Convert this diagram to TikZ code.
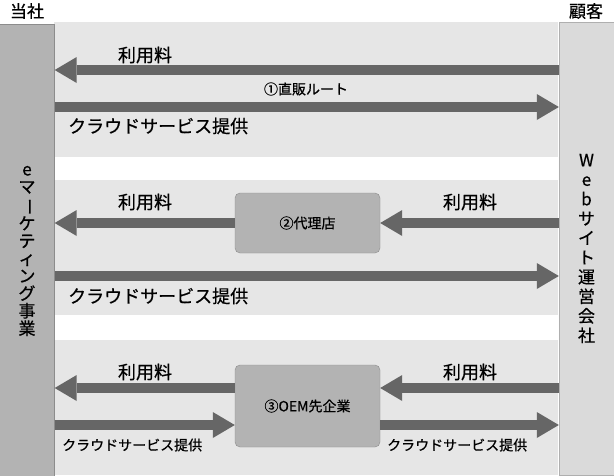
\documentclass[tikz,border=0pt]{standalone}
\usepackage{fontspec}
\setmainfont{Noto Sans CJK JP}[FakeBold=0.6]
\usetikzlibrary{arrows.meta}
\definecolor{bandgray}{HTML}{E6E6E6}
\definecolor{flowgray}{HTML}{666666}
\definecolor{leftgray}{HTML}{B3B3B3}
\definecolor{rightgray}{HTML}{DADADA}
\definecolor{edgegray}{HTML}{8C8C8C}
\begin{document}
\begin{tikzpicture}[x=1pt,y=-1pt,
		flow/.style={draw=flowgray, line width=10pt, -{Triangle[width=26pt,length=22pt,line width=0pt]}},
		lbl/.style={inner sep=0pt, font=\fontsize{18}{18}\selectfont},
		smalllbl/.style={inner sep=0pt, font=\fontsize{14}{14}\selectfont},
		party/.style={draw=edgegray, minimum width=55pt, minimum height=453pt, inner sep=0pt, align=center},
		agent/.style={draw=edgegray, fill=leftgray, rounded corners=5pt, minimum width=145pt, inner sep=0pt, font=\fontsize{14}{14}\selectfont}]
		\useasboundingbox (0,0) rectangle (614,475);
		\fill[bandgray] (54,22) rectangle (558,157);
		\fill[bandgray] (54,180) rectangle (558,315);
		\fill[bandgray] (54,340) rectangle (558,475);
		\node[party, fill=leftgray, font=\fontsize{17}{17.5}\selectfont] (ours) at (27,251) {e\\マ\\\rotatebox[origin=c]{-90}{ー}\\ケ\\テ\\ィ\\ン\\グ\\事\\業};
		\node[party, fill=rightgray, draw=edgegray!70, font=\fontsize{17}{19.5}\selectfont] (client) at (586.5,248.5) {W\\e\\b\\サ\\イ\\ト\\運\\営\\会\\社};
		\node[lbl, font=\fontsize{17}{17}\selectfont] (oursname) at (27,11) {当社};
		\node[lbl, font=\fontsize{17}{17}\selectfont] (clientname) at (586,11) {顧客};
		\node[agent, minimum height=60pt] (agency) at (307.5,223) {②代理店};
		\node[agent, minimum height=82pt] (oem) at (307.5,406) {③OEM先企業};
		\draw[flow] (client.west |- 0,70) -- (ours.east |- 0,70);
		\draw[flow] (ours.east |- 0,107) -- (client.west |- 0,107);
		\node[lbl] (feeA) at (145,55) {利用料};
		\node[smalllbl] (direct) at (306,89) {①直販ルート};
		\node[lbl, anchor=west] (cloudA) at (68,126) {クラウドサービス提供};
		\draw[flow] (agency.west) -- (ours.east |- agency.west);
		\draw[flow] (client.west |- agency.east) -- (agency.east);
		\draw[flow] (ours.east |- 0,276) -- (client.west |- 0,276);
		\node[lbl] (feeB) at (145,202) {利用料};
		\node[lbl] (feeC) at (470,202) {利用料};
		\node[lbl, anchor=west] (cloudB) at (68,296) {クラウドサービス提供};
		\draw[flow] (oem.west |- 0,388) -- (ours.east |- 0,388);
		\draw[flow] (client.west |- 0,388) -- (oem.east |- 0,388);
		\draw[flow] (ours.east |- 0,425) -- (oem.west |- 0,425);
		\draw[flow] (oem.east |- 0,425) -- (client.west |- 0,425);
		\node[lbl] (feeD) at (145,372) {利用料};
		\node[lbl] (feeE) at (470,372) {利用料};
		\node[smalllbl, anchor=west] (cloudC) at (62,445) {クラウドサービス提供};
		\node[smalllbl, anchor=west] (cloudD) at (387,445) {クラウドサービス提供};
	\end{tikzpicture}
\end{document}
